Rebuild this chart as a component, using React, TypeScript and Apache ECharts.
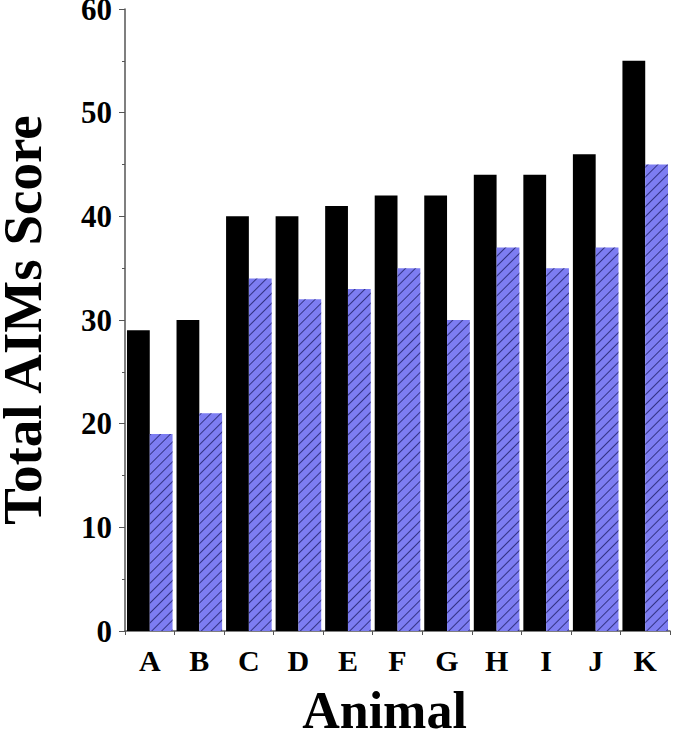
import React, { useEffect, useRef } from "react";
import * as echarts from "echarts";

const categories = ["A", "B", "C", "D", "E", "F", "G", "H", "I", "J", "K"];
const blackValues = [29, 30, 40, 40, 41, 42, 42, 44, 44, 46, 55];
const blueValues = [19, 21, 34, 32, 33, 35, 30, 37, 35, 37, 45];

const FONT = "'Liberation Serif', 'Times New Roman', serif";

export default function App() {
  const ref = useRef<HTMLDivElement>(null);
  useEffect(() => {
    if (!ref.current) return;
    const chart = echarts.init(ref.current, undefined, { renderer: "svg" });
    chart.setOption({
      animation: false,
      backgroundColor: "#ffffff",
      grid: { left: 125, right: 7, top: 9, bottom: 107, containLabel: false, outerBoundsMode: "none" },
      xAxis: {
        type: "category",
        data: categories,
        name: "Animal",
        nameLocation: "middle",
        nameGap: 53,
        nameTextStyle: {
          fontFamily: FONT,
          fontWeight: "bold",
          fontSize: 52,
          color: "#000",
          padding: [0, 26, 0, 0],
        },
        axisLine: { lineStyle: { color: "#555", width: 1.5 } },
        axisTick: { show: true, length: 4, lineStyle: { color: "#555" } },
        axisLabel: { fontFamily: FONT, fontWeight: "bold", fontSize: 30, color: "#000", margin: 14 },
      },
      yAxis: {
        type: "value",
        min: 0,
        max: 60,
        interval: 10,
        name: "Total AIMs Score",
        nameLocation: "middle",
        nameGap: 75,
        nameTextStyle: { fontFamily: FONT, fontWeight: "bold", fontSize: 55, color: "#000" },
        axisLine: { show: true, lineStyle: { color: "#555", width: 1.5 } },
        axisTick: { show: true, length: 6, lineStyle: { color: "#555" } },
        minorTick: { show: true, splitNumber: 2, length: 3, lineStyle: { color: "#555" } },
        splitLine: { show: false },
        axisLabel: { fontFamily: FONT, fontWeight: "bold", fontSize: 31, color: "#000", margin: 13 },
      },
      series: [
        {
          type: "bar",
          data: blackValues,
          barGap: "0%",
          barCategoryGap: "8%",
          itemStyle: { color: "#000000" },
        },
        {
          type: "bar",
          data: blueValues,
          barGap: "0%",
          barCategoryGap: "8%",
          itemStyle: {
            color: "#7d7df2",
            decal: {
              symbol: "rect",
              color: "rgba(25,25,95,0.75)",
              dashArrayX: [1, 0],
              dashArrayY: [1, 5.5],
              rotation: -Math.PI / 4,
            },
          },
        },
      ],
    });
    return () => chart.dispose();
  }, []);
  return <div ref={ref} style={{ width: 677, height: 738, position: "absolute", left: 0, top: 0 }} />;
}
